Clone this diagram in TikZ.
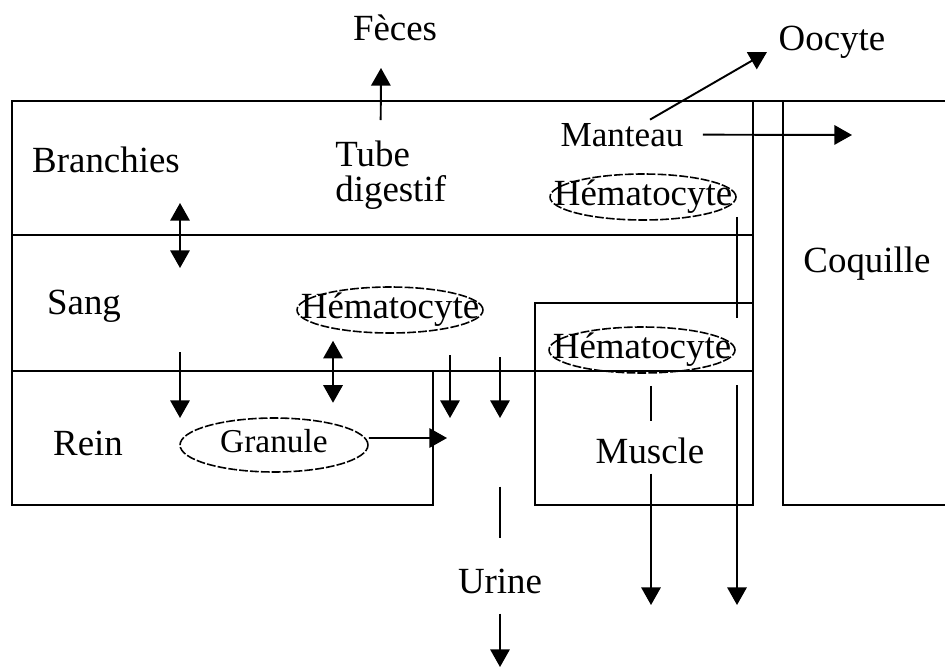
\documentclass[tikz,border=0pt]{standalone}
\usepackage{fontspec}
\setmainfont{Liberation Serif}
\usetikzlibrary{arrows.meta, shapes.geometric, positioning}
\tikzset{
  organ/.style={inner sep=0pt,anchor=base,font=\fontsize{21}{19.4}\selectfont},
  cellnode/.style={ellipse,draw,line width=0.9pt,dash pattern=on 5pt off 1.2pt,
    inner xsep=-1cm,inner ysep=-0.3cm,minimum width=3.72cm,minimum height=0.92cm,
    font=\fontsize{21}{25}\selectfont,text height=14.3pt,text depth=4.6pt},
  wall/.style={line width=1.1pt},
  link/.style={line width=1.1pt},
  arr/.style={-{Triangle[length=10pt,width=11pt]},line width=1.1pt},
  dblarr/.style={{Triangle[length=10pt,width=11pt]}-{Triangle[length=10pt,width=11pt]},line width=1.1pt}
}

\begin{document}
\begin{tikzpicture}[x=0.02cm,y=-0.02cm]
  \useasboundingbox (0,0) rectangle (945,669);

  % compartments
  \draw[wall] (945,101) -- (12,101) -- (12,505) -- (433,505) -- (433,371);
  \draw[wall] (12,235) -- (753,235);
  \draw[wall] (12,371) -- (753,371);
  \draw[wall] (753,101) -- (753,505) -- (535,505) -- (535,303) -- (753,303);
  \draw[wall] (783,101) -- (783,505) -- (945,505);

  % organs
  \node[organ] (feces) at (395,41) {Fèces};
  \node[organ] (oocyte) at (832,51) {Oocyte};
  \node[organ] (branchies) at (106,172) {Branchies};
  \node[organ,align=left,anchor=north west] (tube) at (335,141) {Tube\\digestif};
  \node[organ,font=\fontsize{20}{24}\selectfont] (manteau) at (622,146) {Manteau};
  \node[organ] (coquille) at (867,272) {Coquille};
  \node[organ] (sang) at (84,314) {Sang};
  \node[organ] (rein) at (88,455) {Rein};
  \node[organ] (muscle) at (650,463) {Muscle};
  \node[organ] (urine) at (500,593) {Urine};

  % cells
  \node[cellnode] (hemManteau) at (643,197) {Hématocyte};
  \node[cellnode] (hemSang) at (390,310) {Hématocyte};
  \node[cellnode] (hemMuscle) at (642,350) {Hématocyte};
  \node[cellnode,minimum width=3.76cm,minimum height=1.08cm,
        font=\fontsize{19}{23}\selectfont,text height=12.9pt,text depth=4.1pt] (granule) at (274,445) {Granule};

  % free ends
  \coordinate (fecesOut) at (381,68);
  \coordinate (oocyteIn) at (767,52);
  \coordinate (coqIn) at (852,135);
  \coordinate (brTop) at (180,203);
  \coordinate (brBot) at (180,268);
  \coordinate (reinIn) at (180,418);
  \coordinate (reinOut) at (447,438);
  \coordinate (urineIn) at (450,418);
  \coordinate (urineTop) at (500,357);
  \coordinate (urineOut) at (500,667);
  \coordinate (hemOut) at (737,605);
  \coordinate (musOut) at (651,605);

  % exchanges
  \draw[arr] ([xshift=-0.2cm,yshift=0.42cm]tube.north) -- (fecesOut);
  \draw[arr] ([xshift=0.56cm,yshift=0.06cm]manteau.north) -- (oocyteIn);
  \draw[arr] ([xshift=0.38cm]manteau.east) -- (coqIn);
  \draw[dblarr] (brTop) -- (brBot);
  \draw[arr] (reinIn |- 0,352) -- (reinIn);
  \draw[dblarr] ([xshift=-1.14cm,yshift=-0.14cm]hemSang.south) -- ++(0,62);
  \draw[arr] ([yshift=0.14cm]granule.east) -- (reinOut);
  \draw[arr] (urineIn |- 0,355) -- (urineIn);
  \draw[arr] (urineTop) -- ++(0,61);
  \draw[link] ([yshift=1.63cm]urine.north) -- ++(0,51);
  \draw[arr] ([yshift=-0.4cm]urine.south) -- (urineOut);
  \draw[link] ([xshift=1.88cm,yshift=0.08cm]hemManteau.south) -- ++(0,101);
  \draw[arr] (hemOut |- 0,385) -- (hemOut);
  \draw[link] ([xshift=0.18cm,yshift=-0.24cm]hemMuscle.south) -- ++(0,35);
  \draw[arr] ([xshift=0.02cm,yshift=-0.2cm]muscle.south) -- (musOut);
\end{tikzpicture}
\end{document}
